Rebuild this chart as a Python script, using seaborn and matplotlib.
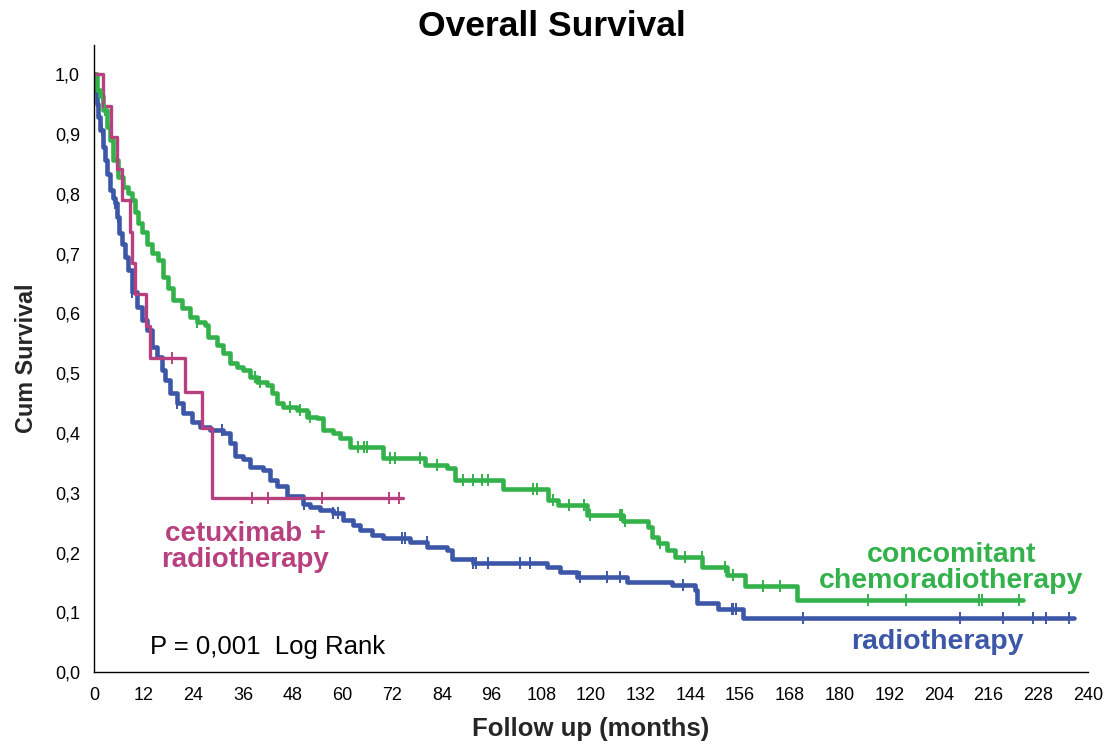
import numpy as np
import pandas as pd
import matplotlib
matplotlib.use("Agg")
import matplotlib.pyplot as plt
import seaborn as sns
from matplotlib.ticker import FixedLocator, FuncFormatter

# Kaplan-Meier step estimates: month at which the cumulative survival changes, and the new level
rt_months = [0, 0.24, 0.65, 1.04, 1.45, 2.1, 2.66, 3.2, 3.86, 4.5,
             5.07, 5.5, 6.1, 6.7, 7.5, 8.2, 9.2, 10.4, 11.6, 12.8,
             14.0, 15.2, 16.4, 17.1, 18.4, 20.0, 21.5, 23.7, 25.6, 28.0,
             31.2, 32.9, 34.1, 36.0, 37.7, 40.8, 42.5, 44.2, 46.6, 50.5,
             52.2, 54.6, 57.7, 60.1, 62.6, 64.3, 67.1, 69.8, 76.3, 80.4,
             85.3, 86.5, 91.5, 109.4, 112.6, 116.7, 128.7, 139.6, 145.2, 145.7,
             150.7, 156.8, 236.5]
rt_surv = [1.0, 0.974, 0.951, 0.929, 0.907, 0.879, 0.857, 0.834, 0.807, 0.793,
           0.784, 0.762, 0.734, 0.717, 0.695, 0.673, 0.636, 0.611, 0.589, 0.572,
           0.544, 0.527, 0.506, 0.489, 0.467, 0.450, 0.434, 0.419, 0.410, 0.405,
           0.400, 0.384, 0.361, 0.356, 0.344, 0.339, 0.322, 0.311, 0.294, 0.281,
           0.277, 0.272, 0.267, 0.255, 0.247, 0.238, 0.230, 0.225, 0.218, 0.210,
           0.204, 0.189, 0.183, 0.176, 0.168, 0.159, 0.151, 0.146, 0.138, 0.116,
           0.106, 0.091, 0.091]
rt_censored = [1.86, 5.1, 5.8, 9.2, 20.0, 31.0, 50.8, 57.7, 58.9, 74.3, 75.1, 80.3,
               91.5, 92.3, 95.2, 102.9, 105.3, 117.4, 123.8, 127.1, 142.3, 154.0,
               154.4, 155.1, 171.2, 209.2, 219.5, 226.7, 229.9, 235.3]

crt_months = [0, 0.65, 1.45, 2.25, 3.06, 3.86, 4.66, 5.87, 7.1, 8.3,
              9.1, 9.9, 10.7, 11.5, 12.7, 13.9, 15.5, 16.7, 17.9, 19.1,
              21.3, 23.2, 24.9, 26.8, 27.5, 29.7, 31.2, 32.9, 34.5, 36.0,
              37.7, 39.4, 41.8, 43.0, 44.2, 45.7, 49.0, 51.4, 53.9, 55.3,
              57.7, 59.4, 61.8, 69.8, 80.0, 85.3, 87.2, 98.8, 109.7, 112.1,
              119.1, 127.8, 133.8, 134.8, 136.2, 138.4, 140.3, 146.9, 152.9, 157.2,
              169.8, 224.3]
crt_surv = [1.0, 0.974, 0.963, 0.940, 0.912, 0.890, 0.857, 0.829, 0.812, 0.801,
            0.790, 0.770, 0.751, 0.737, 0.717, 0.701, 0.689, 0.661, 0.643, 0.623,
            0.609, 0.594, 0.586, 0.581, 0.561, 0.547, 0.534, 0.517, 0.511, 0.506,
            0.494, 0.485, 0.480, 0.467, 0.450, 0.444, 0.438, 0.427, 0.425, 0.405,
            0.400, 0.392, 0.377, 0.358, 0.347, 0.342, 0.322, 0.307, 0.288, 0.280,
            0.263, 0.253, 0.243, 0.226, 0.216, 0.204, 0.192, 0.176, 0.163, 0.144,
            0.121, 0.121]
crt_censored = [1.86, 2.66, 24.9, 38.9, 40.1, 47.3, 49.8, 52.2, 63.8, 65.1, 65.9,
                71.5, 72.7, 78.7, 82.8, 89.2, 91.6, 93.6, 95.2, 106.1, 106.9,
                110.9, 114.6, 118.2, 119.8, 127.1, 127.5, 128.3, 136.7, 142.8,
                146.8, 152.4, 154.4, 161.5, 165.7, 186.8, 196.1, 213.7, 214.5, 223.4]

cetux_months = [0, 2.2, 4.0, 5.6, 6.8, 8.7, 9.1, 9.9, 12.6, 13.5, 22.0, 26.0, 28.4, 74.6]
cetux_surv = [1.0, 0.947, 0.895, 0.842, 0.789, 0.737, 0.684, 0.632, 0.579, 0.526,
              0.468, 0.409, 0.292, 0.292]
cetux_censored = [18.8, 38.1, 42.0, 55.0, 71.3, 73.7]

x_ticks = list(range(0, 241, 12))
y_ticks = [0.0, 0.1, 0.2, 0.3, 0.4, 0.5, 0.6, 0.7, 0.8, 0.9, 1.0]

BLUE = "#3D57A8"
GREEN = "#33B24B"
PINK = "#B8407F"

sns.set_style("white")
plt.rcParams["font.family"] = ["Liberation Sans", "DejaVu Sans"]

fig = plt.figure(figsize=(11.08, 7.44), dpi=100)
ax = fig.add_axes([0.0848, 0.0964, 0.8972, 0.8431])

arms = [
    ("radiotherapy", rt_months, rt_surv, rt_censored, BLUE, 3.3),
    ("chemoradiotherapy", crt_months, crt_surv, crt_censored, GREEN, 3.3),
    ("cetuximab", cetux_months, cetux_surv, cetux_censored, PINK, 2.4),
]

for name, months, surv, censored, color, lw in arms:
    curve = pd.DataFrame({"months": months, "survival": surv})
    sns.lineplot(data=curve, x="months", y="survival", drawstyle="steps-post",
                 estimator=None, sort=False, color=color, linewidth=lw, ax=ax)
    t = np.asarray(months)
    s = np.asarray(surv)
    idx = np.searchsorted(t, censored, side="right") - 1
    marks = pd.DataFrame({"months": censored, "survival": s[idx]})
    sns.scatterplot(data=marks, x="months", y="survival", marker="|", s=85,
                    linewidth=1.4, color=color, ax=ax, zorder=4)

ax.set_xlim(0, 240)
ax.set_ylim(0, 1.049)
ax.xaxis.set_major_locator(FixedLocator(x_ticks))
ax.yaxis.set_major_locator(FixedLocator(y_ticks))
ax.yaxis.set_major_formatter(FuncFormatter(lambda v, p: f"{v:.1f}".replace(".", ",")))

for side in ["top", "right"]:
    ax.spines[side].set_visible(False)
for side in ["left", "bottom"]:
    ax.spines[side].set_color("black")
    ax.spines[side].set_linewidth(1.0)

ax.tick_params(axis="x", direction="out", length=7.5, width=1.8, pad=3,
               labelsize=13, colors="black")
ax.tick_params(axis="y", direction="out", length=9, width=1.2, pad=1,
               labelsize=13, colors="black")

ax.set_xlabel("Follow up (months)", fontsize=18.5, fontweight="bold")
ax.set_ylabel("Cum Survival", fontsize=16.8, fontweight="bold")
ax.xaxis.set_label_coords(0.5, -0.072)
ax.yaxis.set_label_coords(-0.056, 0.5)

fig.text(0.4985, 0.964, "Overall Survival", ha="center", va="center",
         fontsize=25.5, fontweight="bold", color="black")

ax.text(36.5, 0.209, "cetuximab +\nradiotherapy", ha="center", va="center",
        color=PINK, fontsize=20, fontweight="bold", linespacing=1.0)
ax.text(207, 0.174, "concomitant\nchemoradiotherapy", ha="center", va="center",
        color=GREEN, fontsize=20.5, fontweight="bold", linespacing=0.98)
ax.text(203.6, 0.051, "radiotherapy", ha="center", va="center",
        color=BLUE, fontsize=20.5, fontweight="bold")
ax.text(13.5, 0.042, "P = 0,001  Log Rank", ha="left", va="center",
        color="black", fontsize=18.5)

fig.savefig("out.png", dpi=100)
